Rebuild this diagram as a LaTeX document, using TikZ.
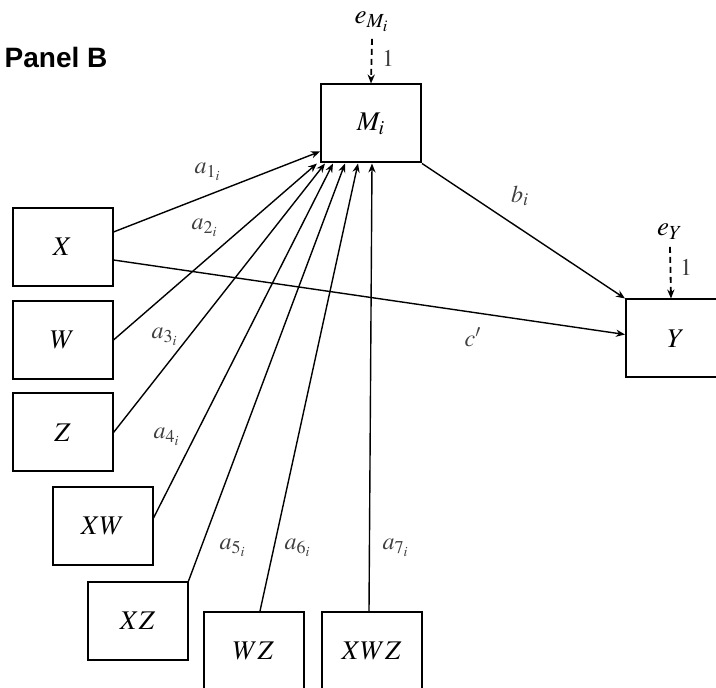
\documentclass[tikz,border=0pt]{standalone}
\usepackage{mathptmx}
\usepackage{fontspec}
\setmainfont{Liberation Serif}
\newfontfamily\panelfont{Liberation Sans}
\usetikzlibrary{arrows,arrows.meta,positioning,calc}

\begin{document}
\begin{tikzpicture}[x=0.5pt, y=-0.5pt,
    var/.style={rectangle, draw=black, line width=1pt, minimum width=50pt, minimum height=39pt, inner sep=0pt, font=\fontsize{13.5}{16}\selectfont},
    path/.style={-{Stealth[length=4.5pt,width=3.6pt]}, line width=0.7pt},
    err/.style={-{Stealth[length=4.5pt,width=3.6pt]}, line width=0.9pt, dash pattern=on 3pt off 2pt},
    lab/.style={font=\fontsize{12}{14}\selectfont, text=black!75},
    elab/.style={font=\fontsize{13.5}{15}\selectfont}]
  \useasboundingbox (0,0) rectangle (716,688);

  \node (panel) [font=\panelfont\bfseries\fontsize{14}{16}\selectfont] at (56,58) {Panel B};

  \node (X) [var] at (62.5,247) {$X$};
  \node (W) [var] at (62.5,340) {$W$};
  \node (Z) [var] at (62.5,432.5) {$Z$};
  \node (XW) [var] at (102.5,526) {$XW$};
  \node (XZ) [var] at (137.5,621) {$XZ$};
  \node (WZ) [var] at (253.5,651) {$WZ$};
  \node (XWZ) [var] at (371.5,651) {$XWZ$};

  \node (M) [var] at (371,123.5) {$M_i$};
  \node (Y) [var] at (676,338.5) {$Y$};

  \node (eM) [elab] at (372,22) {$e_{M_i}$};
  \node (eY) [elab] at (670,232) {$e_Y$};

  % paths into the mediator
  \draw [path] ($(X.east)+(0,-15)$) -- ($(M.west)+(0,28)$);
  \draw [path] (W.east) -- ($(M.south west)+(-3,0)$);
  \draw [path] (Z.east) -- ($(M.south west)+(5,0)$);
  \draw [path] ($(XW.east)+(0,-8)$) -- ($(M.south west)+(13,0)$);
  \draw [path] (XZ.north east) -- ($(M.south west)+(25,0)$);
  \draw [path] ($(WZ.north)+(6.5,0)$) -- ($(M.south west)+(38,0)$);
  \draw [path] ($(XWZ.north)+(-2.5,0)$) -- ($(M.south west)+(52,0)$);

  % paths into the outcome
  \draw [path] (M.south east) -- (Y.north west);
  \draw [path] ($(X.east)+(0,13)$) -- ($(Y.west)+(0,-4)$);

  % error terms
  \draw [err] (eM.south) -- (M.north);
  \draw [err] (eY.south) -- ($(Y.north)+(-5,0)$);

  \node (oneM) [lab] at (388,58) {$1$};
  \node (oneY) [lab] at (686,267) {$1$};

  \node (la1) [lab] at (208,172) {$a_{1_i}$};
  \node (la2) [lab] at (205,228) {$a_{2_i}$};
  \node (la3) [lab] at (165,337) {$a_{3_i}$};
  \node (la4) [lab] at (167,437) {$a_{4_i}$};
  \node (la5) [lab] at (233,548) {$a_{5_i}$};
  \node (la6) [lab] at (298,548) {$a_{6_i}$};
  \node (la7) [lab] at (396,548) {$a_{7_i}$};
  \node (lb) [lab] at (520,196) {$b_i$};
  \node (lc) [lab] at (473,337) {$c'$};
\end{tikzpicture}
\end{document}
